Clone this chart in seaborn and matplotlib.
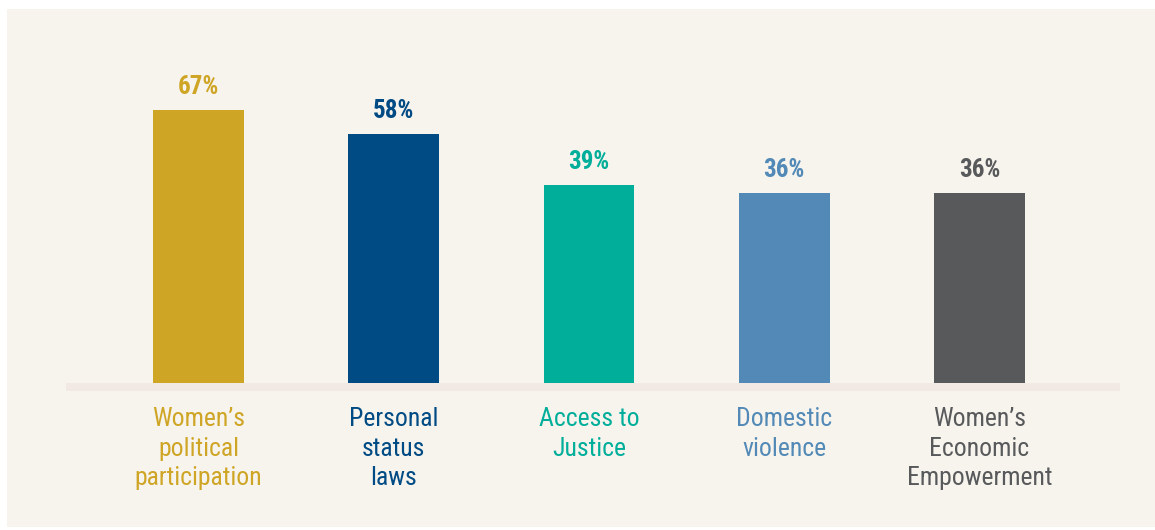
import matplotlib
matplotlib.use("Agg")
import matplotlib.pyplot as plt
from matplotlib.patches import Rectangle
import pandas as pd
import seaborn as sns

# data
categories = ["Women’s\npolitical\nparticipation", "Personal\nstatus\nlaws",
              "Access to\nJustice", "Domestic\nviolence",
              "Women’s\nEconomic\nEmpowerment"]
values = [67, 58, 39, 36, 36]
value_labels = ["67%", "58%", "39%", "36%", "36%"]
colors = ["#cfa525", "#004b84", "#00ae9a", "#5289b6", "#58595b"]

BG = "#f7f4ee"
BAND = "#f3e9e4"
FLOOR = -35  # the reference bars start from a floor below zero

df = pd.DataFrame({"topic": categories, "value": values})
df["height"] = df["value"] - FLOOR

sns.set_theme(style="white")
plt.rcParams["font.family"] = ["Roboto Condensed", "Archivo Narrow",
                               "Liberation Sans Narrow", "DejaVu Sans"]

W, H = 1155, 530
fig = plt.figure(figsize=(W / 100, H / 100), dpi=100, facecolor="white")
fig.patches.append(Rectangle((7 / W, 3 / H), 1148 / W, 518 / H, transform=fig.transFigure,
                             facecolor=BG, edgecolor="none", zorder=-10))
ax = fig.add_axes([66 / W, (H - 391) / H, (1120 - 66) / W, (391 - 50) / H])
ax.set_facecolor("none")

sns.barplot(data=df, x="topic", y="height", hue="topic",
            palette=dict(zip(categories, colors)), legend=False,
            width=0.466, bottom=FLOOR, saturation=1, linewidth=0,
            edgecolor="none", ax=ax, zorder=2)

ax.set_xlim(-0.679, 4.72)
ax.set_ylim(FLOOR - 3, 89.4)
ax.axhspan(FLOOR - 3, FLOOR, color=BAND, zorder=1, lw=0)

for i, (v, lab, c) in enumerate(zip(values, value_labels, colors)):
    ax.annotate(lab, (i, v), xytext=(0, 11.5), textcoords="offset points",
                ha="center", va="baseline", fontsize=18, fontweight="bold", color=c)

ax.set_xticks(range(len(categories)))
ax.set_xticklabels(categories, fontsize=18.5, linespacing=1.3)
for tick, c in zip(ax.get_xticklabels(), colors):
    tick.set_color(c)
ax.tick_params(axis="x", length=0, pad=11.5)
ax.set_yticks([])
ax.set_xlabel("")
ax.set_ylabel("")
sns.despine(ax=ax, left=True, bottom=True)

fig.savefig("out.png", dpi=100, facecolor="white")
